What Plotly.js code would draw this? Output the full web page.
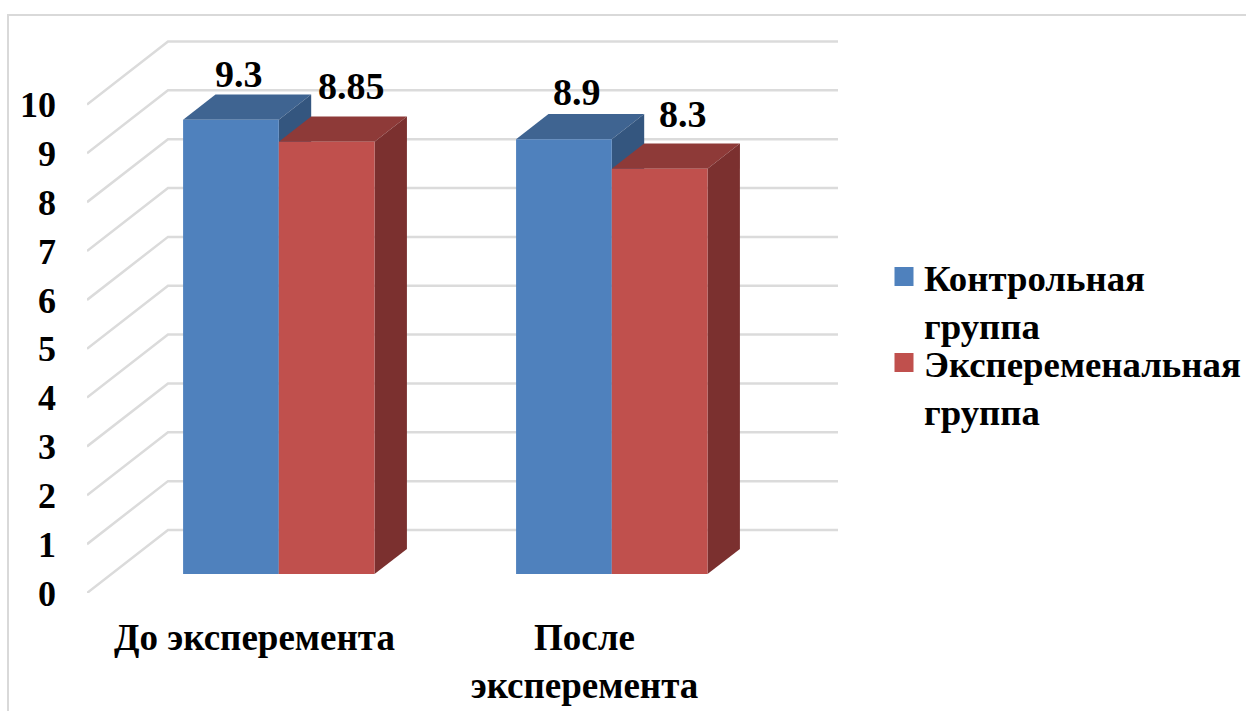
<!DOCTYPE html>
<html>
<head>
<meta charset="utf-8">
<script src="https://cdn.plot.ly/plotly-3.0.1.min.js"></script>
<style>html,body{margin:0;padding:0;background:#fff}#chart{width:1246px;height:711px}</style>
</head>
<body>
<div id="chart"></div>
<script>
// Grouped 3D-style columns drawn as oblique projections on a linear axis pair.
const categories = ['До эксперемента', 'После<br>эксперемента'];
const categoryPositions = [0, 0.994];
const categoryTickPositions = [0, 0.985];
const seriesNames = ['Контрольная<br>группа', 'Эксперeменальная<br>группа'.replace(/e/g, '\u0435')];
const controlValues = [9.3, 8.9];
const experimentValues = [8.85, 8.3];
const valueTicks = [0, 1, 2, 3, 4, 5, 6, 7, 8, 9, 10];

const frontColors = ['#4F81BD', '#C0504D'];
const topColors = ['#3F6491', '#8E3A38'];
const sideColors = ['#34567F', '#7B302F'];
const gridColor = '#DBDBDB';
const fontFamily = '"Liberation Serif", "Times New Roman", serif';

// Oblique projection: full floor depth shifts a point right and up, in axis units.
const DEPTH_X = 0.2418;
const DEPTH_V = 1.29;
const project = (x, v, d) => [x + d * DEPTH_X, v + d * DEPTH_V];

const BAR_WIDTH = 1 / 3.5;
const DEPTH_FRONT = 0.3;
const DEPTH_BACK = 0.7;
const X_LEFT = -0.5;
const X_RIGHT = 1.5;

const polygon = pts => {
  const xy = pts.map(p => project(p[0], p[1], p[2]));
  return { x: xy.map(p => p[0]).concat(xy[0][0]), y: xy.map(p => p[1]).concat(xy[0][1]) };
};

const face = (pts, color) => Object.assign(polygon(pts), {
  type: 'scatter', mode: 'none', fill: 'toself', fillcolor: color,
  showlegend: false, hoverinfo: 'skip', cliponaxis: false
});

// Floor-to-wall gridlines: a diagonal across the floor, then along the back wall.
const gridX = [], gridY = [];
valueTicks.forEach(v => {
  [[X_LEFT, v, 0], [X_LEFT, v, 1], [X_RIGHT, v, 1]].forEach(p => {
    const q = project(p[0], p[1], p[2]);
    gridX.push(q[0]); gridY.push(q[1]);
  });
  gridX.push(null); gridY.push(null);
});

const traces = [{
  type: 'scatter', mode: 'lines', x: gridX, y: gridY,
  line: { color: gridColor, width: 2.5 }, showlegend: false, hoverinfo: 'skip', cliponaxis: false
}];

const allSeries = [controlValues, experimentValues];
const annotations = [];
const labelShifts = [[[-24, -2], [-8, 8]], [[-19, -1], [-9, 6]]];

categoryPositions.forEach((pos, c) => {
  allSeries.forEach((vals, s) => {
    const v = vals[c];
    const x0 = pos + (s - 1) * BAR_WIDTH;
    const x1 = x0 + BAR_WIDTH;
    traces.push(face([[x0, v, DEPTH_FRONT], [x1, v, DEPTH_FRONT], [x1, v, DEPTH_BACK], [x0, v, DEPTH_BACK]], topColors[s]));
    traces.push(face([[x1, 0, DEPTH_FRONT], [x1, v, DEPTH_FRONT], [x1, v, DEPTH_BACK], [x1, 0, DEPTH_BACK]], sideColors[s]));
    traces.push(face([[x0, 0, DEPTH_FRONT], [x1, 0, DEPTH_FRONT], [x1, v, DEPTH_FRONT], [x0, v, DEPTH_FRONT]], frontColors[s]));
    const anchor = project((x0 + x1) / 2, v, DEPTH_BACK);
    annotations.push({
      x: anchor[0], y: anchor[1], xref: 'x', yref: 'y', text: String(v), showarrow: false,
      yanchor: 'bottom', xshift: labelShifts[c][s][0], yshift: labelShifts[c][s][1],
      font: { family: fontFamily, size: 38, color: '#000', weight: 700 }
    });
  });
});

// Legend carriers: swatches only, each in its own legend box so the rows sit close.
seriesNames.forEach((name, s) => traces.push({
  type: 'scatter', mode: 'markers', x: [null], y: [null], name: name,
  legend: s === 0 ? 'legend' : 'legend2',
  marker: { symbol: 'square', size: 16, color: frontColors[s], line: { color: frontColors[s], width: 3 } },
  hoverinfo: 'skip'
}));

const PLOT = { l: 87, r: 838, t: 20, b: 593 };
const pxX = px => (px - PLOT.l) / (PLOT.r - PLOT.l);
const pxY = px => (PLOT.b - px) / (PLOT.b - PLOT.t);

const legendBox = top => ({
  x: pxX(884), y: pxY(top), xanchor: 'left', yanchor: 'top',
  valign: 'top', itemclick: false, itemdoubleclick: false,
  bgcolor: 'rgba(0,0,0,0)', borderwidth: 0,
  font: { family: fontFamily, size: 36.8, color: '#000', weight: 700 }
});

const layout = {
  width: 1246, height: 711,
  margin: { l: PLOT.l, r: 1246 - PLOT.r, t: PLOT.t, b: 711 - PLOT.b, pad: 0, autoexpand: false },
  paper_bgcolor: '#fff', plot_bgcolor: 'rgba(0,0,0,0)',
  font: { family: fontFamily, color: '#000' },
  xaxis: {
    type: 'linear', range: [X_LEFT, X_LEFT + (PLOT.r - PLOT.l) / 335],
    tickmode: 'array', tickvals: categoryTickPositions, ticktext: categories,
    showgrid: false, zeroline: false, showline: false, ticks: '',
    automargin: false, ticklabelstandoff: 19,
    tickfont: { family: fontFamily, size: 37, color: '#000', weight: 700 }
  },
  yaxis: {
    type: 'linear', range: [0, (PLOT.b - PLOT.t) / 48.85],
    tickmode: 'array', tickvals: valueTicks,
    showgrid: false, zeroline: false, showline: false, ticks: '',
    automargin: false, ticklabelstandoff: 30,
    tickfont: { family: fontFamily, size: 36, color: '#000', weight: 700 }
  },
  legend: legendBox(246),
  legend2: legendBox(332),
  annotations: annotations,
  shapes: [{
    type: 'path', xref: 'paper', yref: 'paper',
    path: `M${pxX(8)},${pxY(711)} L${pxX(8)},${pxY(15)} L${pxX(1246)},${pxY(15)}`,
    line: { color: '#D9D9D9', width: 2 }
  }]
};

Plotly.newPlot('chart', traces, layout, { displayModeBar: false, responsive: false });
</script>
</body>
</html>
